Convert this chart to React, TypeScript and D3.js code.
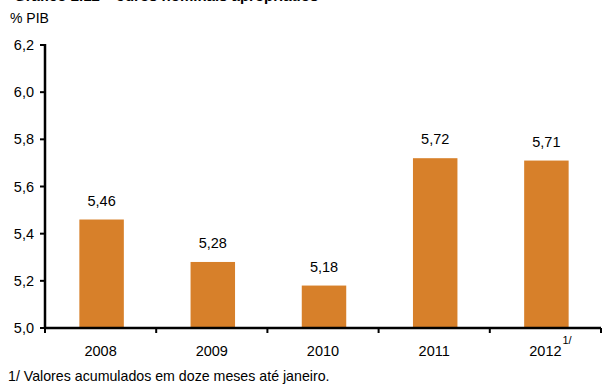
import React from "react";
import * as d3 from "d3";

const categories = ["2008", "2009", "2010", "2011", "2012"];
const values = [5.46, 5.28, 5.18, 5.72, 5.71];
const yTicks = [5.0, 5.2, 5.4, 5.6, 5.8, 6.0, 6.2];
const title = "Gráfico 2.12 – Juros nominais apropriados";
const unitLabel = "% PIB";
const footnote = "1/ Valores acumulados em doze meses até janeiro.";
const superscript = "1/";

const W = 602;
const H = 388;
const left = 45;
const right = 601;
const top = 45;
const bottom = 328;
const font = "Liberation Sans, Arial, sans-serif";
const fmt = (v: number, d: number) => v.toFixed(d).replace(".", ",");

export default function App() {
  const y = d3.scaleLinear().domain([5.0, 6.2]).range([bottom, top]);
  const x = d3.scaleBand().domain(categories).range([left, right]).paddingInner(0.6).paddingOuter(0.3);
  const xb = d3.scaleBand().domain(categories).range([left, right]);
  const bw = x.bandwidth();
  return (
    <svg width={W} height={H} style={{ position: "absolute", left: 0, top: 0, background: "#fff" }}>
      <text x={14} y={0.5} fontFamily={font} fontSize={15} fontWeight="bold" fill="#000">{title}</text>
      <text x={10} y={23} fontFamily={font} fontSize={14} fill="#000">{unitLabel}</text>
      {categories.map((c, i) => (
        <g key={c}>
          <rect x={(x(c) as number) + 1} y={y(values[i])} width={bw} height={bottom - y(values[i])} fill="#D7802A" />
          <text x={(x(c) as number) + 1 + bw / 2} y={y(values[i]) - 14} textAnchor="middle" fontFamily={font} fontSize={14.5} fill="#000">{fmt(values[i], 2)}</text>
          <text x={(xb(c) as number) + xb.bandwidth() / 2} y={356} textAnchor="middle" fontFamily={font} fontSize={14.5} fill="#000">{c}</text>
        </g>
      ))}
      <text x={(xb("2012") as number) + xb.bandwidth() / 2 + 17} y={344} fontFamily={font} fontSize={11} fill="#000">{superscript}</text>
      {yTicks.map((t) => (
        <g key={t}>
          <line x1={left - 5} x2={left} y1={y(t)} y2={y(t)} stroke="#000" strokeWidth={2} />
          <text x={34} y={y(t) + 5} textAnchor="end" fontFamily={font} fontSize={14.5} fill="#000">{fmt(t, 1)}</text>
        </g>
      ))}
      {[...categories.map((c) => xb(c) as number), right].map((bx, i) => (
        <line key={i} x1={bx} x2={bx} y1={bottom} y2={bottom + 5} stroke="#000" strokeWidth={2} />
      ))}
      <line x1={left} x2={left} y1={top - 1} y2={bottom + 1} stroke="#000" strokeWidth={2.5} />
      <line x1={left - 1} x2={right} y1={bottom} y2={bottom} stroke="#000" strokeWidth={2.5} />
      <text x={8} y={381} fontFamily={font} fontSize={14.2} fill="#000">{footnote}</text>
    </svg>
  );
}
